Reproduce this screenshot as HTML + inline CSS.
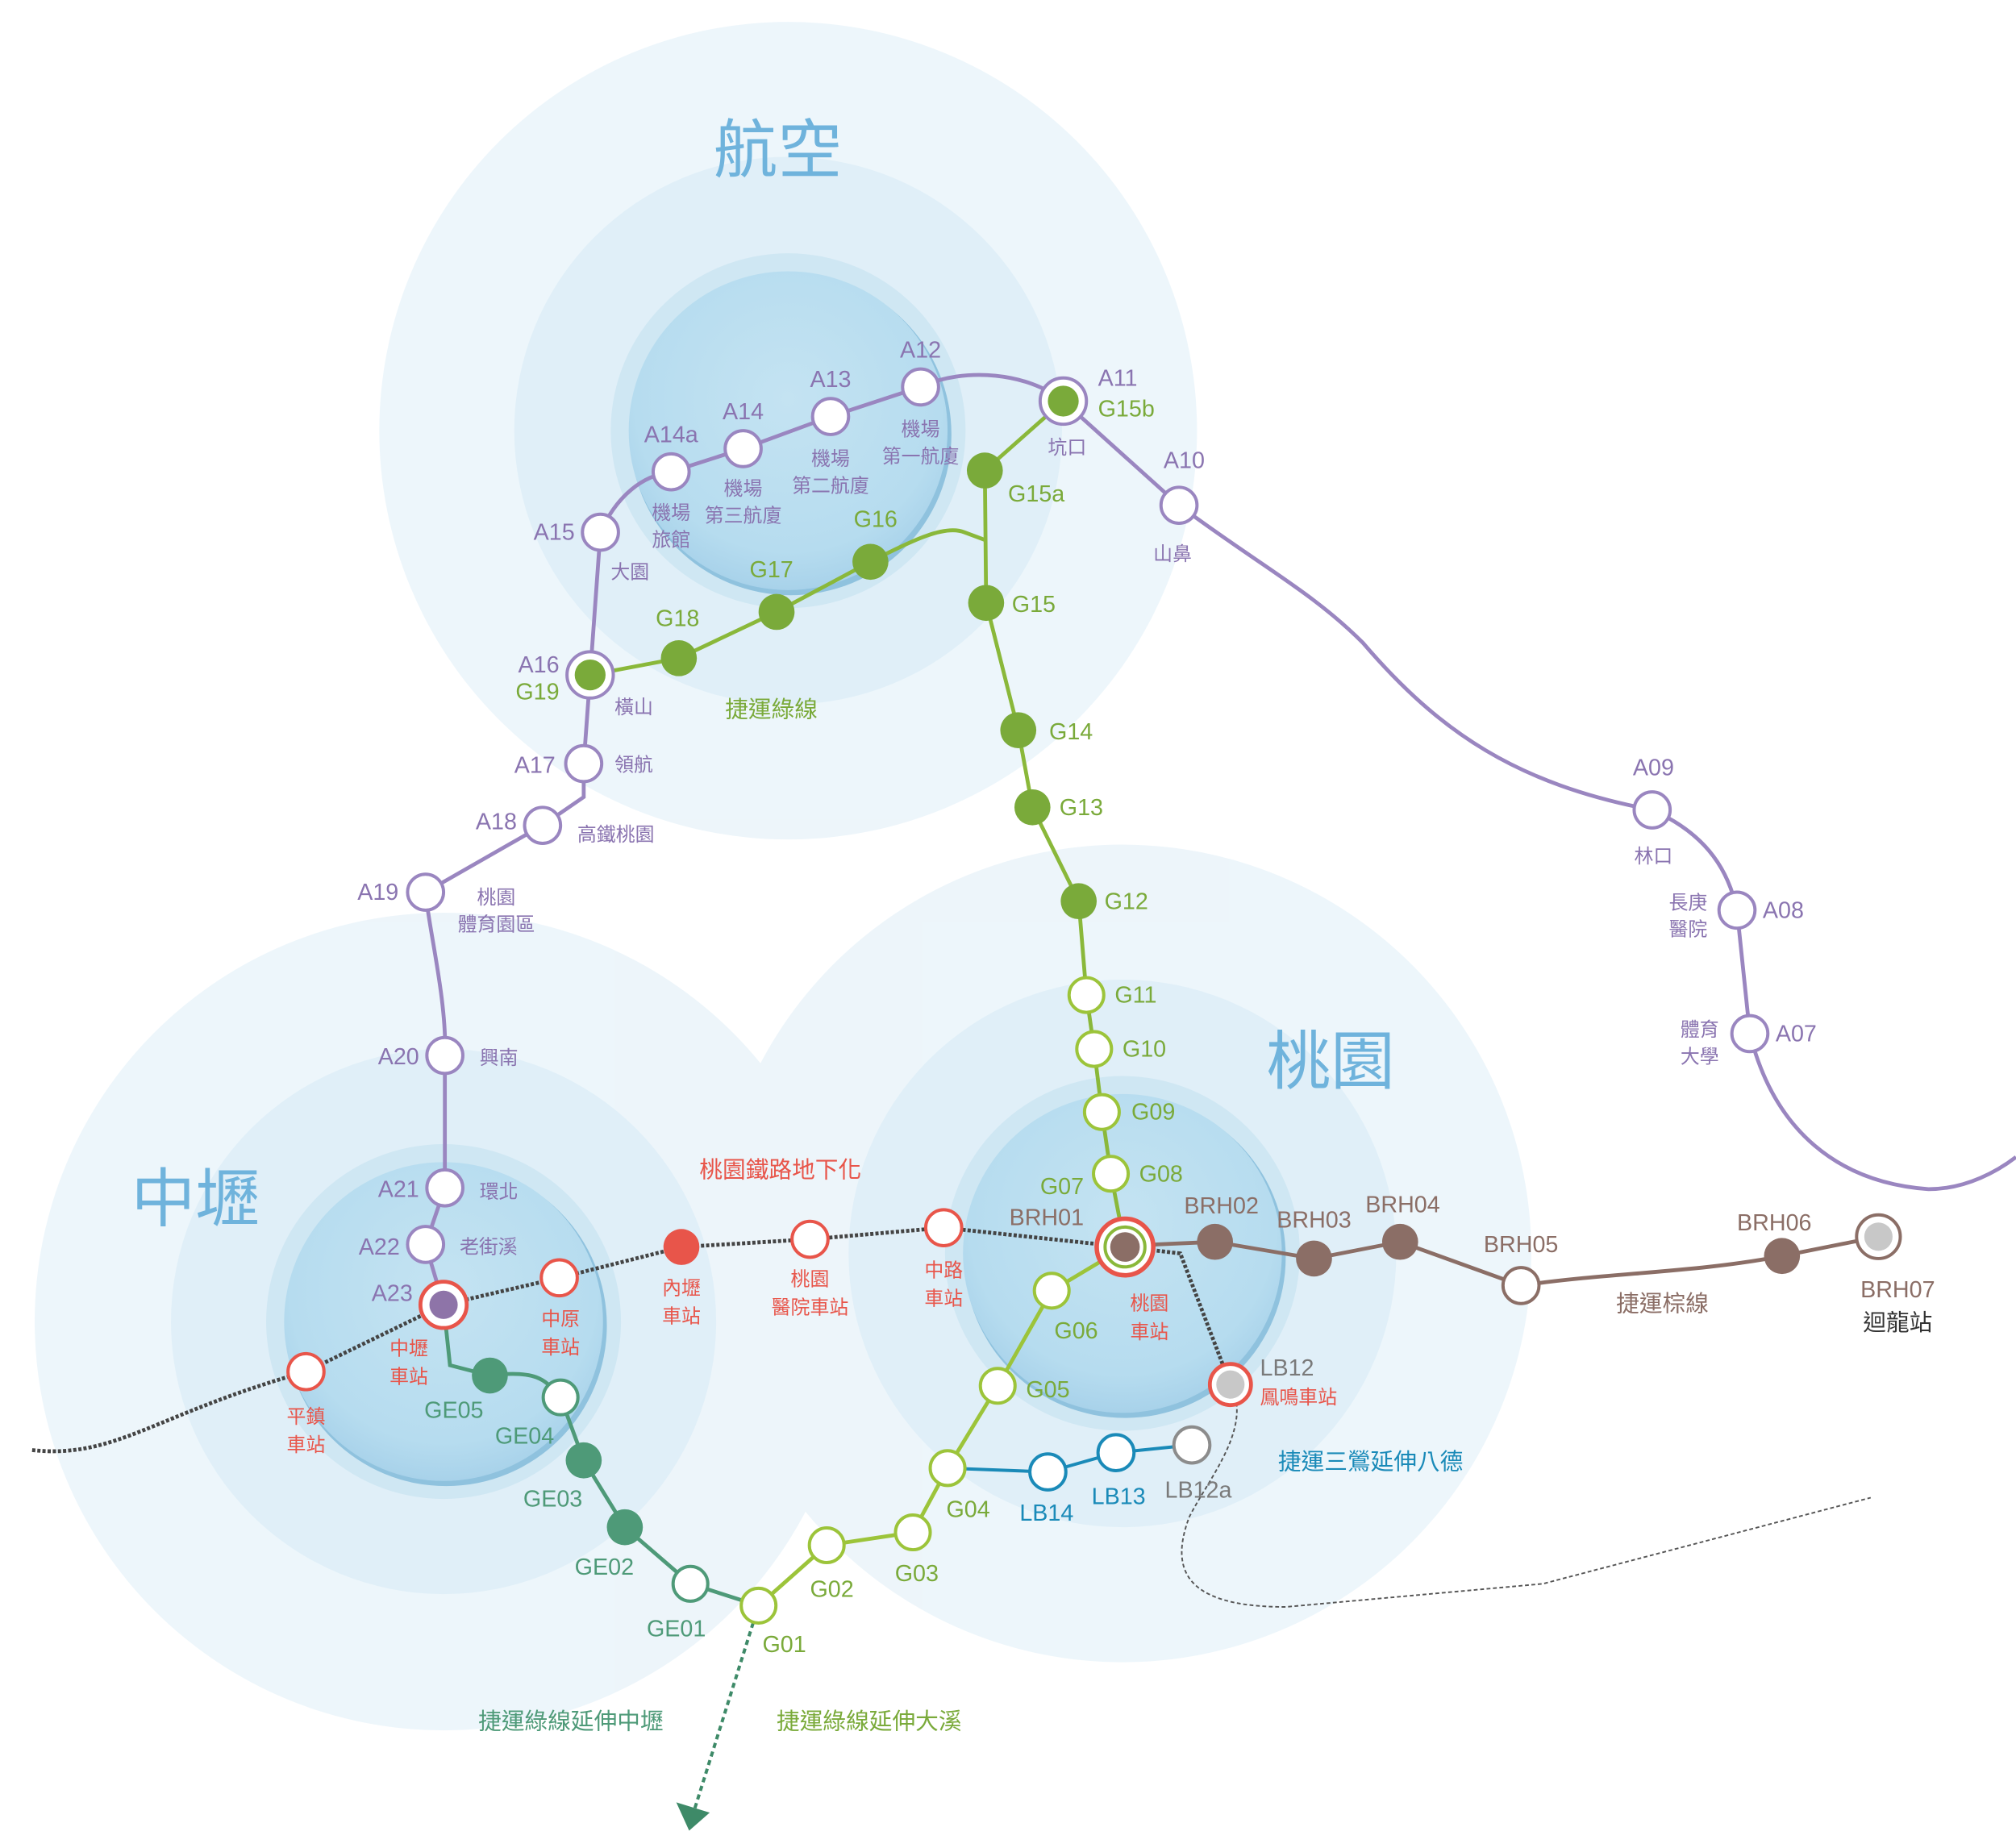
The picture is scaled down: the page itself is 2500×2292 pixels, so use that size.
<!DOCTYPE html>
<html><head><meta charset="utf-8"><style>
html,body{margin:0;padding:0;background:#fff}
svg{display:block}
text{font-family:"Liberation Sans","Noto Sans CJK TC",sans-serif}
.c{font-size:18px}
.n{font-size:15px}
</style></head><body>
<svg width="2500" height="2292" viewBox="0 0 1568 1437.5" xmlns="http://www.w3.org/2000/svg">
<defs>
<radialGradient id="ball" cx="50%" cy="40%" r="60%">
<stop offset="0" stop-color="#c4e3f2"/><stop offset="0.8" stop-color="#b6dcef"/><stop offset="1" stop-color="#a8d2ea"/>
</radialGradient>
</defs>
<rect width="1568" height="1437.5" fill="#fff"/>
<!-- bubbles -->
<g opacity="0.85">
<circle cx="613" cy="335" r="318" fill="#eaf4fa"/>
<circle cx="345" cy="1028" r="318" fill="#eaf4fa"/>
<circle cx="873" cy="975" r="318" fill="#eaf4fa"/>
</g>
<g opacity="0.8">
<circle cx="613" cy="335" r="213" fill="#dcedf7"/>
<circle cx="345" cy="1028" r="212" fill="#dcedf7"/>
<circle cx="873" cy="975" r="213" fill="#dcedf7"/>
</g>
<g>
<circle cx="613" cy="335" r="138" fill="#cfe7f3"/>
<circle cx="345" cy="1028" r="138" fill="#cfe7f3"/>
<circle cx="873" cy="975" r="138" fill="#cfe7f3"/>
<circle cx="615" cy="338" r="125" fill="#8fc2de"/>
<circle cx="347" cy="1031" r="125" fill="#8fc2de"/>
<circle cx="875" cy="978" r="125" fill="#8fc2de"/>
<circle cx="613" cy="335" r="124" fill="url(#ball)"/>
<circle cx="345" cy="1028" r="124" fill="url(#ball)"/>
<circle cx="873" cy="975" r="124" fill="url(#ball)"/>
</g>
<!-- big labels -->
<text x="605" y="134" font-size="50" fill="#6fb3dc" text-anchor="middle">航空</text>
<text x="1035" y="843" font-size="50" fill="#6fb3dc" text-anchor="middle">桃園</text>
<text x="152" y="950" font-size="50" fill="#6fb3dc" text-anchor="middle">中壢</text>

<!-- dashed extensions -->
<path d="M957,1077 C975,1110 940,1150 925,1180 C910,1220 920,1250 1000,1250 L1200,1232 L1455,1165" fill="none" stroke="#555" stroke-width="1.2" stroke-dasharray="3,2"/>
<!-- railway dotted -->
<path d="M25,1128 C90,1135 120,1100 238,1067 L345,1015 L435,994 L530,970 L630,964 L734,955 L875,970 L918,975 L957,1077" fill="none" stroke="#444" stroke-width="3" stroke-dasharray="2.5,1.5"/>
<!-- arrow -->
<path d="M590,1249 L540,1408" stroke="#3e8a68" stroke-width="2.5" stroke-dasharray="4,3" fill="none"/>
<polygon points="526,1402 552,1410 536,1424" fill="#3e8a68"/>

<!-- purple line -->
<path d="M331,968 L346,924 L346,821 C348,780 333,720 331,694 L422,642 L454,620 L454,594 L459,525 L467,414 C480,385 500,370 522,367 L578,349 L646,324 L716,301 C750,285 800,290 827,312 L917,393 C980,440 1020,460 1060,500 C1120,570 1180,610 1285,630 C1330,650 1345,680 1351,708 L1361,804 C1380,880 1430,920 1500,925 C1530,925 1555,910 1568,900" fill="none" stroke="#9a86c0" stroke-width="3"/>
<path d="M331,968 L345,1015" stroke="#9a86c0" stroke-width="3"/>
<!-- green line -->
<path d="M827,312 L766,366 L767,469 L792,568 L803,628 L839,701 L845,774 L851,816 L857,865 L864,913 L875,970" fill="none" stroke="#8ab83a" stroke-width="3"/>
<path d="M459,525 L528,512 L604,476 L677,437 C710,420 735,408 750,414 L766,420" fill="none" stroke="#8ab83a" stroke-width="3"/>
<path d="M875,970 L818,1004 L776,1078 L737,1142 L710,1192 L643,1202 L590,1249" fill="none" stroke="#9cc43a" stroke-width="3"/>
<!-- GE line -->
<path d="M345,1015 L350,1062 L381,1070 C420,1065 425,1075 436,1087 L454,1136 L486,1188 L537,1232 L590,1249" fill="none" stroke="#4e9a78" stroke-width="3"/>
<!-- LB line -->
<path d="M737,1142 L815,1145 L868,1130 L927,1124" fill="none" stroke="#1a8ab8" stroke-width="2.5"/>
<!-- BRH -->
<path d="M875,970 L900,968 L945,966 L1022,979 L1089,966 L1183,1000 C1250,990 1320,990 1386,977 L1461,962" fill="none" stroke="#8b6e66" stroke-width="3"/>

<!-- purple stations -->
<g fill="#fff" stroke="#9a86c0" stroke-width="2.5">
<circle cx="716" cy="301" r="14"/><circle cx="646" cy="324" r="14"/><circle cx="578" cy="349" r="14"/><circle cx="522" cy="367" r="14"/>
<circle cx="467" cy="414" r="14"/><circle cx="454" cy="594" r="14"/><circle cx="422" cy="642" r="14"/><circle cx="331" cy="694" r="14"/>
<circle cx="346" cy="821" r="14"/><circle cx="346" cy="924" r="14"/><circle cx="331" cy="968" r="14"/>
<circle cx="917" cy="393" r="14"/><circle cx="1285" cy="630" r="14"/><circle cx="1351" cy="708" r="14"/><circle cx="1361" cy="804" r="14"/>
<circle cx="827" cy="312" r="18"/><circle cx="459" cy="525" r="18"/>
</g>
<!-- green filled -->
<g fill="#7aaa3a">
<circle cx="827" cy="312" r="12"/><circle cx="459" cy="525" r="12"/>
<circle cx="766" cy="366" r="14"/><circle cx="767" cy="469" r="14"/><circle cx="792" cy="568" r="14"/><circle cx="803" cy="628" r="14"/><circle cx="839" cy="701" r="14"/>
<circle cx="677" cy="437" r="14"/><circle cx="604" cy="476" r="14"/><circle cx="528" cy="512" r="14"/>
</g>
<g fill="#fff" stroke="#9cc43a" stroke-width="2.5">
<circle cx="845" cy="774" r="13.5"/><circle cx="851" cy="816" r="13.5"/><circle cx="857" cy="865" r="13.5"/><circle cx="864" cy="913" r="13.5"/>
<circle cx="818" cy="1004" r="13.5"/><circle cx="776" cy="1078" r="13.5"/><circle cx="737" cy="1142" r="13.5"/><circle cx="710" cy="1192" r="13.5"/><circle cx="643" cy="1202" r="13.5"/><circle cx="590" cy="1249" r="13.5"/>
</g>
<!-- GE -->
<g fill="#4e9a78"><circle cx="381" cy="1070" r="14"/><circle cx="454" cy="1136" r="14"/><circle cx="486" cy="1188" r="14"/></g>
<g fill="#fff" stroke="#4e9a78" stroke-width="2.5"><circle cx="436" cy="1087" r="13.5"/><circle cx="537" cy="1232" r="13.5"/></g>
<!-- LB -->
<g fill="#fff" stroke="#1a8ab8" stroke-width="2.5"><circle cx="815" cy="1145" r="14"/><circle cx="868" cy="1130" r="14"/></g>
<circle cx="927" cy="1124" r="14" fill="#fff" stroke="#8c8c8c" stroke-width="2.5"/>
<!-- BRH -->
<g fill="#8b6e66"><circle cx="945" cy="966" r="14"/><circle cx="1022" cy="979" r="14"/><circle cx="1089" cy="966" r="14"/><circle cx="1386" cy="977" r="14"/></g>
<circle cx="1183" cy="1000" r="14" fill="#fff" stroke="#8b6e66" stroke-width="2.5"/>
<circle cx="1461" cy="962" r="17" fill="#fff" stroke="#8b6e66" stroke-width="2.5"/>
<circle cx="1461" cy="962" r="11" fill="#c8c8c8"/>
<!-- red stations -->
<g fill="#fff" stroke="#e8554a" stroke-width="2.5">
<circle cx="238" cy="1067" r="14"/><circle cx="435" cy="994" r="14"/><circle cx="630" cy="964" r="14"/><circle cx="734" cy="955" r="14"/>
</g>
<circle cx="530" cy="970" r="14" fill="#e8554a"/>
<circle cx="345" cy="1015" r="18" fill="#fff" stroke="#e8554a" stroke-width="3"/>
<circle cx="345" cy="1015" r="11" fill="#8e74a8"/>
<circle cx="875" cy="970" r="22" fill="#fff" stroke="#e8554a" stroke-width="3.5"/>
<circle cx="875" cy="970" r="15.5" fill="none" stroke="#8ab83a" stroke-width="2.5"/>
<circle cx="875" cy="970" r="11.5" fill="#8b6e66"/>
<circle cx="957" cy="1077" r="16" fill="#fff" stroke="#e8554a" stroke-width="3"/>
<circle cx="957" cy="1077" r="11" fill="#c8c8c8"/>

<!-- purple labels -->
<g fill="#8a74b0">
<text class="c" x="716" y="278" text-anchor="middle">A12</text>
<text class="c" x="646" y="301" text-anchor="middle">A13</text>
<text class="c" x="578" y="326" text-anchor="middle">A14</text>
<text class="c" x="522" y="344" text-anchor="middle">A14a</text>
<text class="c" x="447" y="420" text-anchor="end">A15</text>
<text class="c" x="435" y="523" text-anchor="end">A16</text>
<text class="c" x="432" y="601" text-anchor="end">A17</text>
<text class="c" x="402" y="645" text-anchor="end">A18</text>
<text class="c" x="310" y="700" text-anchor="end">A19</text>
<text class="c" x="326" y="828" text-anchor="end">A20</text>
<text class="c" x="326" y="931" text-anchor="end">A21</text>
<text class="c" x="311" y="976" text-anchor="end">A22</text>
<text class="c" x="321" y="1012" text-anchor="end">A23</text>
<text class="c" x="854" y="300">A11</text>
<text class="c" x="905" y="364">A10</text>
<text class="c" x="1270" y="603">A09</text>
<text class="c" x="1371" y="714">A08</text>
<text class="c" x="1381" y="810">A07</text>
<text class="n" x="716" y="339" text-anchor="middle">機場</text>
<text class="n" x="716" y="360" text-anchor="middle">第一航廈</text>
<text class="n" x="646" y="362" text-anchor="middle">機場</text>
<text class="n" x="646" y="383" text-anchor="middle">第二航廈</text>
<text class="n" x="578" y="385" text-anchor="middle">機場</text>
<text class="n" x="578" y="406" text-anchor="middle">第三航廈</text>
<text class="n" x="522" y="404" text-anchor="middle">機場</text>
<text class="n" x="522" y="425" text-anchor="middle">旅館</text>
<text class="n" x="490" y="450" text-anchor="middle">大園</text>
<text class="n" x="830" y="353" text-anchor="middle">坑口</text>
<text class="n" x="912" y="436" text-anchor="middle">山鼻</text>
<text class="n" x="493" y="555" text-anchor="middle">橫山</text>
<text class="n" x="493" y="600" text-anchor="middle">領航</text>
<text class="n" x="479" y="654" text-anchor="middle">高鐵桃園</text>
<text class="n" x="386" y="703" text-anchor="middle">桃園</text>
<text class="n" x="386" y="724" text-anchor="middle">體育園區</text>
<text class="n" x="388" y="828" text-anchor="middle">興南</text>
<text class="n" x="388" y="932" text-anchor="middle">環北</text>
<text class="n" x="380" y="975" text-anchor="middle">老街溪</text>
<text class="n" x="1286" y="671" text-anchor="middle">林口</text>
<text class="n" x="1313" y="707" text-anchor="middle">長庚</text>
<text class="n" x="1313" y="728" text-anchor="middle">醫院</text>
<text class="n" x="1322" y="806" text-anchor="middle">體育</text>
<text class="n" x="1322" y="827" text-anchor="middle">大學</text>
</g>
<!-- green labels -->
<g fill="#7aaa3a">
<text class="c" x="854" y="324">G15b</text>
<text class="c" x="784" y="390">G15a</text>
<text class="c" x="787" y="476">G15</text>
<text class="c" x="816" y="575">G14</text>
<text class="c" x="824" y="634">G13</text>
<text class="c" x="859" y="707">G12</text>
<text class="c" x="867" y="780">G11</text>
<text class="c" x="873" y="822">G10</text>
<text class="c" x="880" y="871">G09</text>
<text class="c" x="886" y="919">G08</text>
<text class="c" x="843" y="929" text-anchor="end">G07</text>
<text class="c" x="820" y="1041">G06</text>
<text class="c" x="798" y="1087">G05</text>
<text class="c" x="736" y="1180">G04</text>
<text class="c" x="696" y="1230">G03</text>
<text class="c" x="630" y="1242">G02</text>
<text class="c" x="593" y="1285">G01</text>
<text class="c" x="681" y="410" text-anchor="middle">G16</text>
<text class="c" x="600" y="449" text-anchor="middle">G17</text>
<text class="c" x="527" y="487" text-anchor="middle">G18</text>
<text class="c" x="435" y="544" text-anchor="end">G19</text>
<text x="600" y="558" font-size="18" text-anchor="middle">捷運綠線</text>
<text x="676" y="1345" font-size="18" text-anchor="middle">捷運綠線延伸大溪</text>
</g>
<g fill="#4e9a78">
<text class="c" x="353" y="1103" text-anchor="middle">GE05</text>
<text class="c" x="408" y="1123" text-anchor="middle">GE04</text>
<text class="c" x="430" y="1172" text-anchor="middle">GE03</text>
<text class="c" x="470" y="1225" text-anchor="middle">GE02</text>
<text class="c" x="526" y="1273" text-anchor="middle">GE01</text>
<text x="444" y="1345" font-size="18" text-anchor="middle">捷運綠線延伸中壢</text>
</g>
<g fill="#1a8ab8">
<text class="c" x="814" y="1183" text-anchor="middle">LB14</text>
<text class="c" x="870" y="1170" text-anchor="middle">LB13</text>
<text x="1066" y="1143" font-size="18" text-anchor="middle">捷運三鶯延伸八德</text>
</g>
<text class="c" x="932" y="1165" text-anchor="middle" fill="#7a7a7a">LB12a</text>
<text class="c" x="980" y="1070" fill="#7a7a7a">LB12</text>
<!-- brown labels -->
<g fill="#8b6e66">
<text class="c" x="814" y="953" text-anchor="middle">BRH01</text>
<text class="c" x="950" y="944" text-anchor="middle">BRH02</text>
<text class="c" x="1022" y="955" text-anchor="middle">BRH03</text>
<text class="c" x="1091" y="943" text-anchor="middle">BRH04</text>
<text class="c" x="1183" y="974" text-anchor="middle">BRH05</text>
<text class="c" x="1380" y="957" text-anchor="middle">BRH06</text>
<text class="c" x="1476" y="1009" text-anchor="middle">BRH07</text>
<text x="1293" y="1020" font-size="18" text-anchor="middle">捷運棕線</text>
</g>
<text x="1476" y="1035" font-size="18" text-anchor="middle" fill="#333">迴龍站</text>
<!-- red labels -->
<g fill="#e8554a">
<text x="607" y="916" font-size="18" text-anchor="middle">桃園鐵路地下化</text>
<text class="n" x="238" y="1107" text-anchor="middle">平鎮</text>
<text class="n" x="238" y="1129" text-anchor="middle">車站</text>
<text class="n" x="318" y="1054" text-anchor="middle">中壢</text>
<text class="n" x="318" y="1076" text-anchor="middle">車站</text>
<text class="n" x="436" y="1031" text-anchor="middle">中原</text>
<text class="n" x="436" y="1053" text-anchor="middle">車站</text>
<text class="n" x="530" y="1007" text-anchor="middle">內壢</text>
<text class="n" x="530" y="1029" text-anchor="middle">車站</text>
<text class="n" x="630" y="1000" text-anchor="middle">桃園</text>
<text class="n" x="630" y="1022" text-anchor="middle">醫院車站</text>
<text class="n" x="734" y="993" text-anchor="middle">中路</text>
<text class="n" x="734" y="1015" text-anchor="middle">車站</text>
<text class="n" x="894" y="1019" text-anchor="middle">桃園</text>
<text class="n" x="894" y="1041" text-anchor="middle">車站</text>
<text class="n" x="980" y="1092">鳳鳴車站</text>
</g>
</svg>
</body></html>
